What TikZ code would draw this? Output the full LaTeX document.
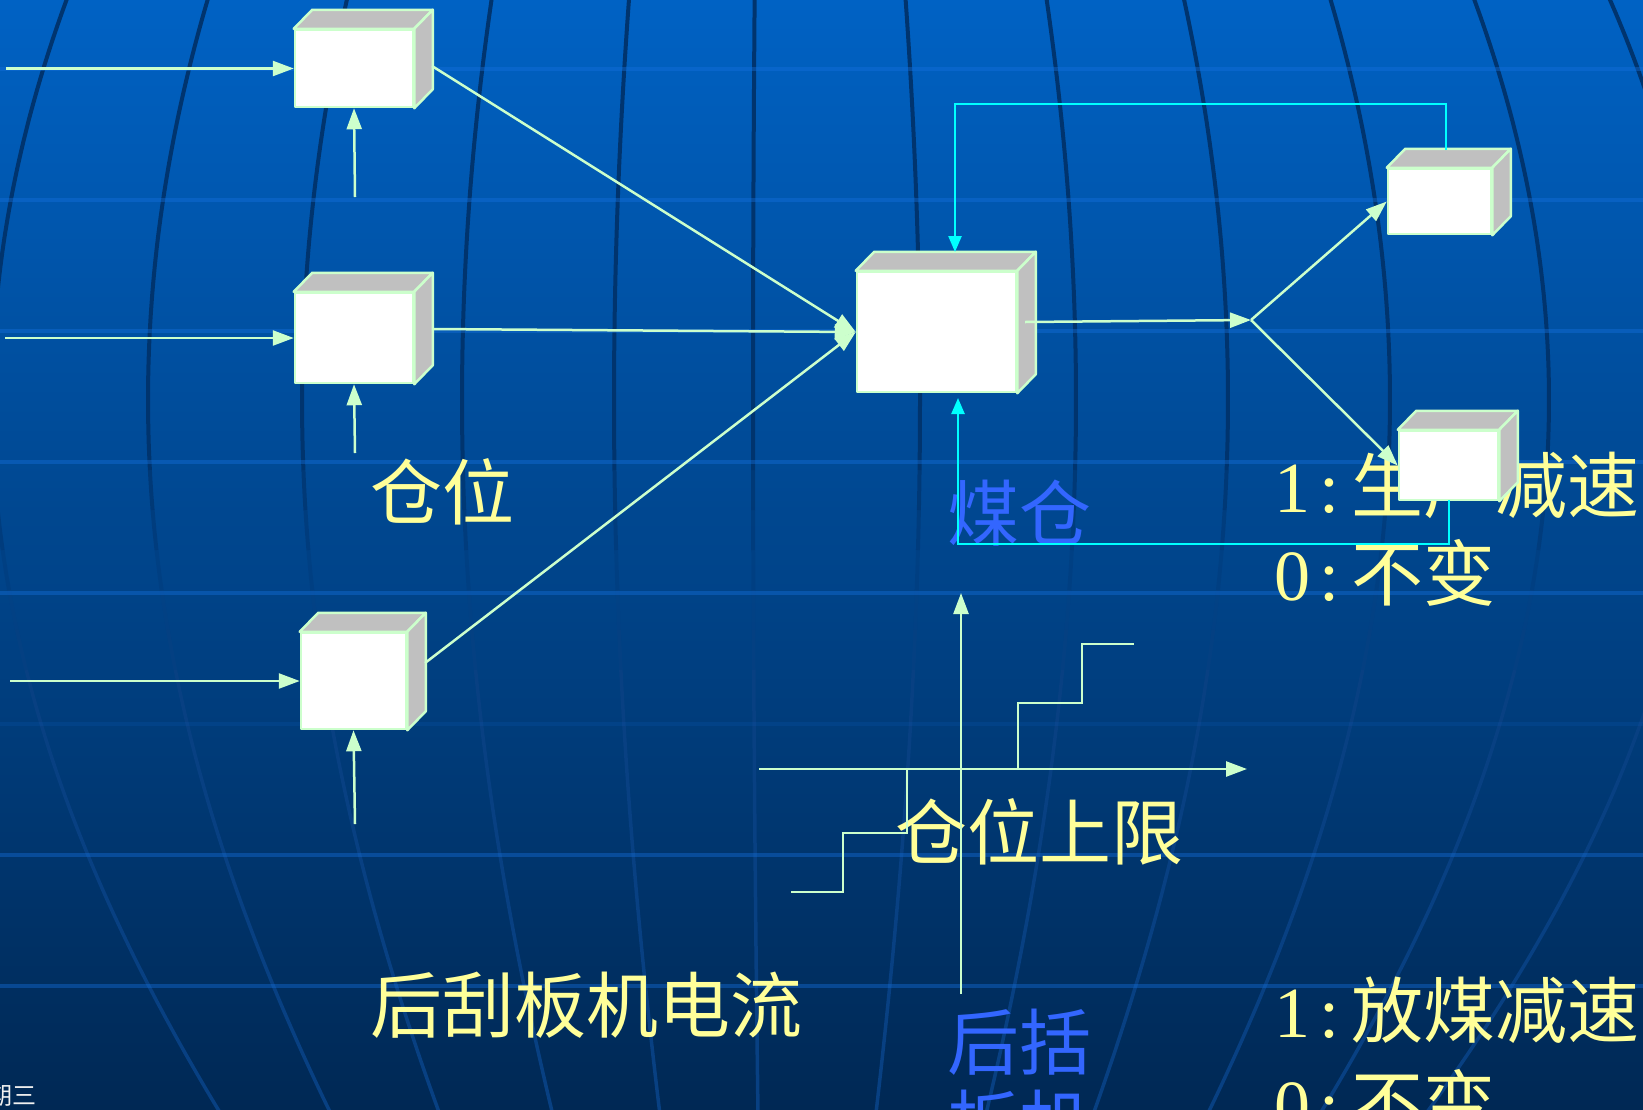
\documentclass[tikz,border=0pt]{standalone}
\usepackage{fontspec}
\newfontfamily\cjk{Noto Sans CJK SC}
\newfontfamily\dig{Liberation Serif}
\usetikzlibrary{arrows.meta,calc}
\definecolor{bgtop}{RGB}{0,98,196}
\definecolor{bgmid}{RGB}{0,70,142}
\definecolor{bgbot}{RGB}{0,40,84}
\definecolor{gridc}{RGB}{20,112,222}
\definecolor{merid}{RGB}{0,52,110}
\definecolor{meridlow}{RGB}{8,64,130}
\definecolor{lgreen}{RGB}{204,255,204}
\definecolor{fgray}{RGB}{192,192,192}
\definecolor{tyellow}{RGB}{255,255,153}
\definecolor{tblue}{RGB}{51,102,255}
\definecolor{cyanl}{RGB}{0,255,255}
\newcommand\cubefaces[1]{%
  \filldraw[face] (#1.north west) -- ++(18.5,-19) -- ($(#1.north east)+(18.5,-19)$) -- (#1.north east) -- cycle;
  \filldraw[face] (#1.north east) -- ($(#1.north east)+(18.5,-19)$) -- ($(#1.south east)+(18.5,-19)$) -- (#1.south east) -- cycle;}
\newcommand\numlab[2]{{\dig #1}\hspace{9pt}{\dig :}\hspace{12pt}{\cjk #2}}
\tikzset{
  front/.style={rectangle, draw=lgreen, fill=white, line width=2.5pt, inner sep=0pt, line join=round},
  face/.style={draw=lgreen, fill=fgray, line width=2.5pt, line join=round},
  arr/.style={draw=lgreen, line width=2.5pt, -{Triangle[length=21pt,width=15pt]}},
  carr/.style={draw=cyanl, line width=2.5pt, -{Triangle[length=16pt,width=13pt]}},
  gline/.style={draw=lgreen, line width=2.5pt},
  txt/.style={inner sep=0pt, anchor=base west, font=\fontsize{72}{80}\selectfont},
  gridline/.style={draw=gridc, opacity=0.4, line width=4pt},
  meridian/.style={draw=merid, line width=4pt},
  meridianlow/.style={draw=meridlow, line width=3.5pt}
}
\begin{document}
\begin{tikzpicture}[x=1pt,y=-1pt]
\useasboundingbox (0,0) rectangle (1643,1109);
% background
\shade[top color=bgtop, middle color=bgmid, bottom color=bgbot] (0,0) rectangle (1643,1109);
\foreach \A in {-778,-622,-468,-308,-156,-17,150,306,458,620,779,929}{
  \foreach \ya/\yb/\op in {-10/470/1, 470/510/0.75, 510/550/0.5, 550/590/0.25}
    \draw[meridian, draw opacity=\op] plot[domain=\ya:\yb, samples=20, smooth] ({770+\A*cos(deg((\x-400)/907))}, \x);
  \foreach \ya/\yb/\op in {590/630/0.3, 630/670/0.6, 670/1120/1}
    \draw[meridianlow, draw opacity=\op] plot[domain=\ya:\yb, samples=20, smooth] ({770+\A*cos(deg((\x-400)/907))}, \x);
}
\foreach \y in {69,200,331,462,593,855,986}
  \draw[gridline] (0,\y) -- (1643,\y);
\draw[gridline, opacity=0.12] (0,724) -- (1643,724);
% texts
\node[txt, text=tyellow] (tcw) at (370,519) {\cjk 仓位};
\node[txt, text=tblue] (tmc) at (947,540) {\cjk 煤仓};
\node[txt, text=tyellow] (t1a) at (1274,512) {\numlab{1}{生产减速}};
\node[txt, text=tyellow] (t0a) at (1274,600) {\numlab{0}{不变}};
\node[txt, text=tyellow] (tsx) at (895,859) {\cjk 仓位上限};
\node[txt, text=tyellow] (tdl) at (370,1032) {\cjk 后刮板机电流};
\node[txt, text=tblue] (thk) at (947,1069) {\cjk 后括};
\node[txt, text=tblue] (thk2) at (947,1150) {\cjk 板机};
\node[txt, text=tyellow] (t1b) at (1274,1037) {\numlab{1}{放煤减速}};
\node[txt, text=tyellow] (t0b) at (1274,1130) {\numlab{0}{不变}};
\node[inner sep=0pt, anchor=base west, text=white!88!gray, font=\fontsize{24}{24}\selectfont] (tday) at (-12,1104) {\cjk 期三};
% cubes
\node[front, minimum width=118pt, minimum height=77pt] (A) at (354,68.5) {};
\cubefaces{A}
\node[front, minimum width=118pt, minimum height=90pt] (B) at (354,338) {};
\cubefaces{B}
\node[front, minimum width=105pt, minimum height=96pt] (C) at (353.5,681) {};
\cubefaces{C}
\node[front, minimum width=159pt, minimum height=120pt] (D) at (936.5,332) {};
\cubefaces{D}
\node[front, minimum width=103pt, minimum height=65pt] (E) at (1439.5,201.5) {};
\cubefaces{E}
\node[front, minimum width=99pt, minimum height=69pt] (F) at (1448.5,465.5) {};
\cubefaces{F}
% coordinates
\coordinate (inA) at (6,68.5);
\coordinate (upA) at (355,197);
\coordinate (inB) at (5,338);
\coordinate (upB) at (355,453);
\coordinate (inC) at (10,681);
\coordinate (upC) at (355,824);
\coordinate (oA) at (432,66);
\coordinate (oB) at (432,329);
\coordinate (oC) at (425,663);
\coordinate (oD) at (1025,322);
\coordinate (J) at (1251,320);
\coordinate (Etop) at (1446,150);
\coordinate (topbar) at (0,104);
\coordinate (Dtop) at (955,252);
\coordinate (Fbot) at (1449,500);
\coordinate (botbar) at (0,544);
\coordinate (Dbot) at (958,398);
% connectors
\draw[arr] (inA) -- (A.west);
\draw[arr] (upA) -- (A.south);
\draw[arr] (inB) -- (B.west);
\draw[arr] (upB) -- (B.south);
\draw[arr] (inC) -- (C.west);
\draw[arr] (upC) -- (C.south);
\draw[arr] (oA) -- (D.west);
\draw[arr] (oB) -- (D.west);
\draw[arr] (oC) -- (D.west);
\draw[arr] (oD) -- (J);
\draw[arr] (J) -- (E.west);
\draw[arr] (J) -- (F.west);
\draw[carr] (Etop) -- (Etop |- topbar) -- (Dtop |- topbar) -- (Dtop);
\draw[carr] (Fbot) -- (Fbot |- botbar) -- (Dbot |- botbar) -- (Dbot);
% chart
\coordinate (vy0) at (961,994);
\coordinate (vy1) at (961,593);
\coordinate (hx0) at (759,769);
\coordinate (hx1) at (1247,769);
\draw[arr] (vy0) -- (vy1);
\draw[arr] (hx0) -- (hx1);
\draw[gline] (1018,769) -- (1018,703) -- (1082,703) -- (1082,644) -- (1134,644);
\draw[gline] (907,769) -- (907,833) -- (843,833) -- (843,892) -- (791,892);
\end{tikzpicture}
\end{document}
